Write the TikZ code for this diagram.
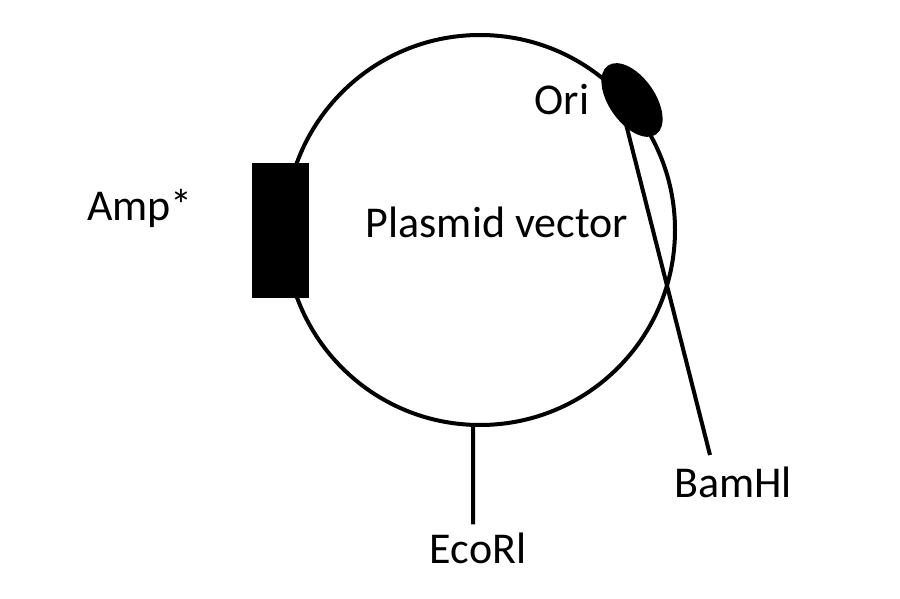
\documentclass[tikz,border=0pt]{standalone}
\usepackage{fontspec}
\setmainfont{Carlito}
\usetikzlibrary{calc}
\tikzset{>=latex}
\tikzset{
  backbone/.style={line width=4pt,black},
  site/.style={line width=4pt,black},
  lbl/.style={font=\fontsize{44}{48}\selectfont,inner sep=0pt},
}

\begin{document}
\begin{tikzpicture}[x=1pt,y=-1pt]
  \def\R{195}
  \useasboundingbox (0,0) rectangle (900,599);

  % PLASMID
  \coordinate (c) at (480,230);
  \draw[backbone] (c) circle (\R);
  \node[lbl] (name) at (497,222) {Plasmid vector};

  % MARKERS
  \fill[black] (252,163) rectangle (309,298);
  \node[lbl] (amp) at (140,208) {Amp*};
  \fill[black,rotate around={-55:(632,100)}] (632,100) ellipse (42 and 23);
  \node[lbl] (ori) at (562,100) {Ori};

  % SITES
  \coordinate (eco) at ($(c)+(92:\R)$);
  \node[lbl] (ecolbl) at (478,548) {EcoRl};
  \draw[site] (eco) -- ($(ecolbl.north)+(-5,-8)$);
  \coordinate (bam) at ($(c)+(45:\R)$);
  \node[lbl] (bamlbl) at (733,482) {BamHl};
  \draw[site] ($(c)+(-45:\R)$) -- (710,455);
\end{tikzpicture}
\end{document}
